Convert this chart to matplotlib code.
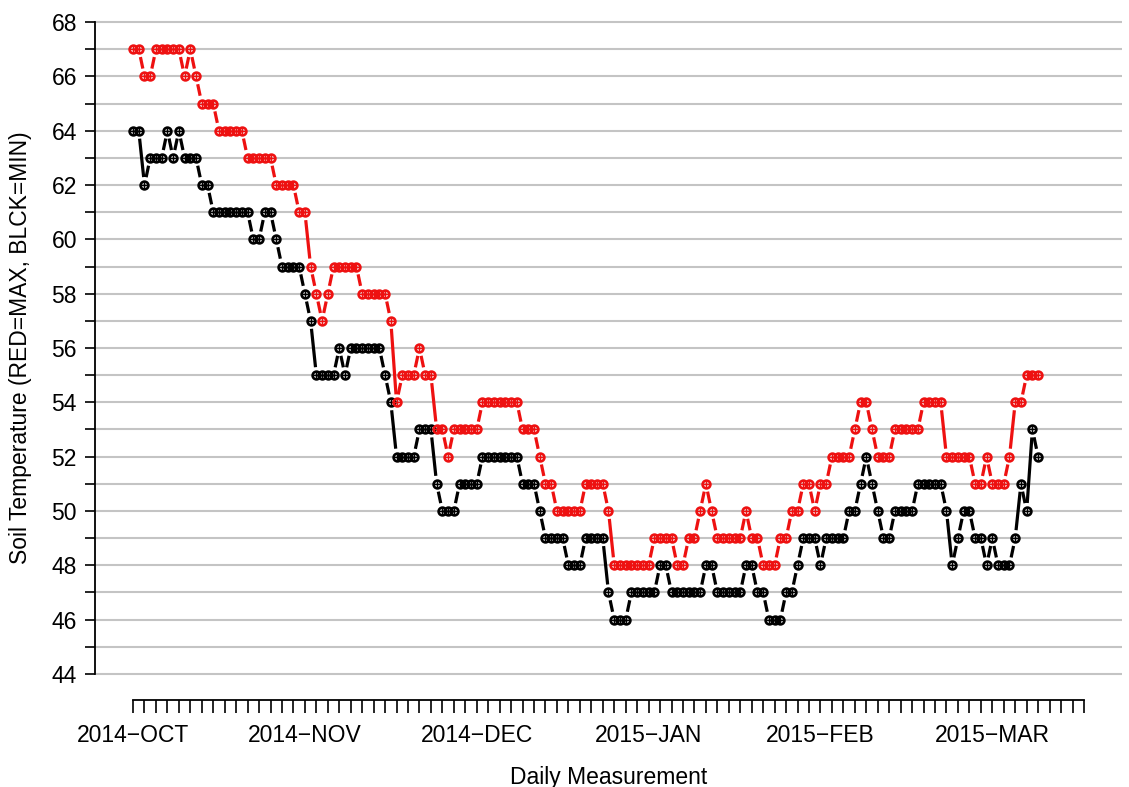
import numpy as np
import matplotlib
matplotlib.use("Agg")
import matplotlib.pyplot as plt
from matplotlib.collections import LineCollection

# daily soil temperature, 2014-10-01 onwards
soil_max = [67, 67, 66, 66, 67, 67, 67, 67, 67, 66, 67, 66, 65, 65, 65,
            64, 64, 64, 64, 64, 63, 63, 63, 63, 63, 62, 62, 62, 62, 61,
            61, 59, 58, 57, 58, 59, 59, 59, 59, 59, 58, 58, 58, 58, 58,
            57, 54, 55, 55, 55, 56, 55, 55, 53, 53, 52, 53, 53, 53, 53,
            53, 54, 54, 54, 54, 54, 54, 54, 53, 53, 53, 52, 51, 51, 50,
            50, 50, 50, 50, 51, 51, 51, 51, 50, 48, 48, 48, 48, 48, 48,
            48, 49, 49, 49, 49, 48, 48, 49, 49, 50, 51, 50, 49, 49, 49,
            49, 49, 50, 49, 49, 48, 48, 48, 49, 49, 50, 50, 51, 51, 50,
            51, 51, 52, 52, 52, 52, 53, 54, 54, 53, 52, 52, 52, 53, 53,
            53, 53, 53, 54, 54, 54, 54, 52, 52, 52, 52, 52, 51, 51, 52,
            51, 51, 51, 52, 54, 54, 55, 55, 55]
soil_min = [64, 64, 62, 63, 63, 63, 64, 63, 64, 63, 63, 63, 62, 62, 61,
            61, 61, 61, 61, 61, 61, 60, 60, 61, 61, 60, 59, 59, 59, 59,
            58, 57, 55, 55, 55, 55, 56, 55, 56, 56, 56, 56, 56, 56, 55,
            54, 52, 52, 52, 52, 53, 53, 53, 51, 50, 50, 50, 51, 51, 51,
            51, 52, 52, 52, 52, 52, 52, 52, 51, 51, 51, 50, 49, 49, 49,
            49, 48, 48, 48, 49, 49, 49, 49, 47, 46, 46, 46, 47, 47, 47,
            47, 47, 48, 48, 47, 47, 47, 47, 47, 47, 48, 48, 47, 47, 47,
            47, 47, 48, 48, 47, 47, 46, 46, 46, 47, 47, 48, 49, 49, 49,
            48, 49, 49, 49, 49, 50, 50, 51, 52, 51, 50, 49, 49, 50, 50,
            50, 50, 51, 51, 51, 51, 51, 50, 48, 49, 50, 50, 49, 49, 48,
            49, 48, 48, 48, 49, 51, 50, 53, 52]

month_labels = ["2014\u2212OCT", "2014\u2212NOV", "2014\u2212DEC",
                "2015\u2212JAN", "2015\u2212FEB", "2015\u2212MAR"]
month_pos = [0, 30, 60, 90, 120, 150]
n_axis = 166

plt.rcParams["font.family"] = ["Liberation Sans", "DejaVu Sans"]

fig = plt.figure(figsize=(11.29, 7.87), dpi=100)
ax = fig.add_axes([95 / 1129, 87 / 787, 1027 / 1129, 704 / 787])
ax.set_xlim(-0.04 * n_axis, n_axis * 1.04)
ax.set_ylim(43.04, 68.96)

for v in range(44, 69):
    ax.axhline(v, color="#c4c4c4", lw=1.5, zorder=0)


def b_line(y, color):
    # R type="b": points joined by lines that stop short of each point
    x = np.arange(len(y))
    pts = ax.transData.transform(np.column_stack([x, y]))
    gap = 8.0
    segs = []
    for p, q in zip(pts[:-1], pts[1:]):
        d = q - p
        dist = np.hypot(d[0], d[1])
        if dist > 2 * gap + 1:
            u = d / dist
            segs.append(ax.transData.inverted().transform([p + u * gap, q - u * gap]))
    ax.add_collection(LineCollection(segs, colors=color, linewidths=2.3, zorder=2))
    ax.plot(x, y, "o", ms=5.6, mfc="none", mec=color, mew=1.9, zorder=3)
    ax.plot(x, y, "+", ms=4.6, color=color, mew=1.0, zorder=3)


b_line(soil_min, "black")
b_line(soil_max, "#ee1111")

for s in ["top", "right"]:
    ax.spines[s].set_visible(False)
ax.spines["left"].set_bounds(44, 68)
ax.spines["bottom"].set_bounds(0, n_axis)
ax.spines["left"].set_linewidth(1.3)
ax.spines["bottom"].set_linewidth(1.3)

ax.set_yticks(range(44, 69, 2))
ax.set_yticks(range(44, 69), minor=True)
ax.set_xticks(month_pos)
ax.set_xticklabels(month_labels)
ax.set_xticks(range(0, n_axis + 1, 2), minor=True)
ax.tick_params(which="both", direction="out", length=7, width=1.2, labelsize=16.5, pad=6)
ax.tick_params(axis="x", which="both", length=9, pad=8)

ax.set_xlabel("Daily Measurement", fontsize=16.5, labelpad=14)
ax.set_ylabel("Soil Temperature (RED=MAX, BLCK=MIN)", fontsize=16.5, labelpad=14)

fig.savefig("out.png", dpi=100)
